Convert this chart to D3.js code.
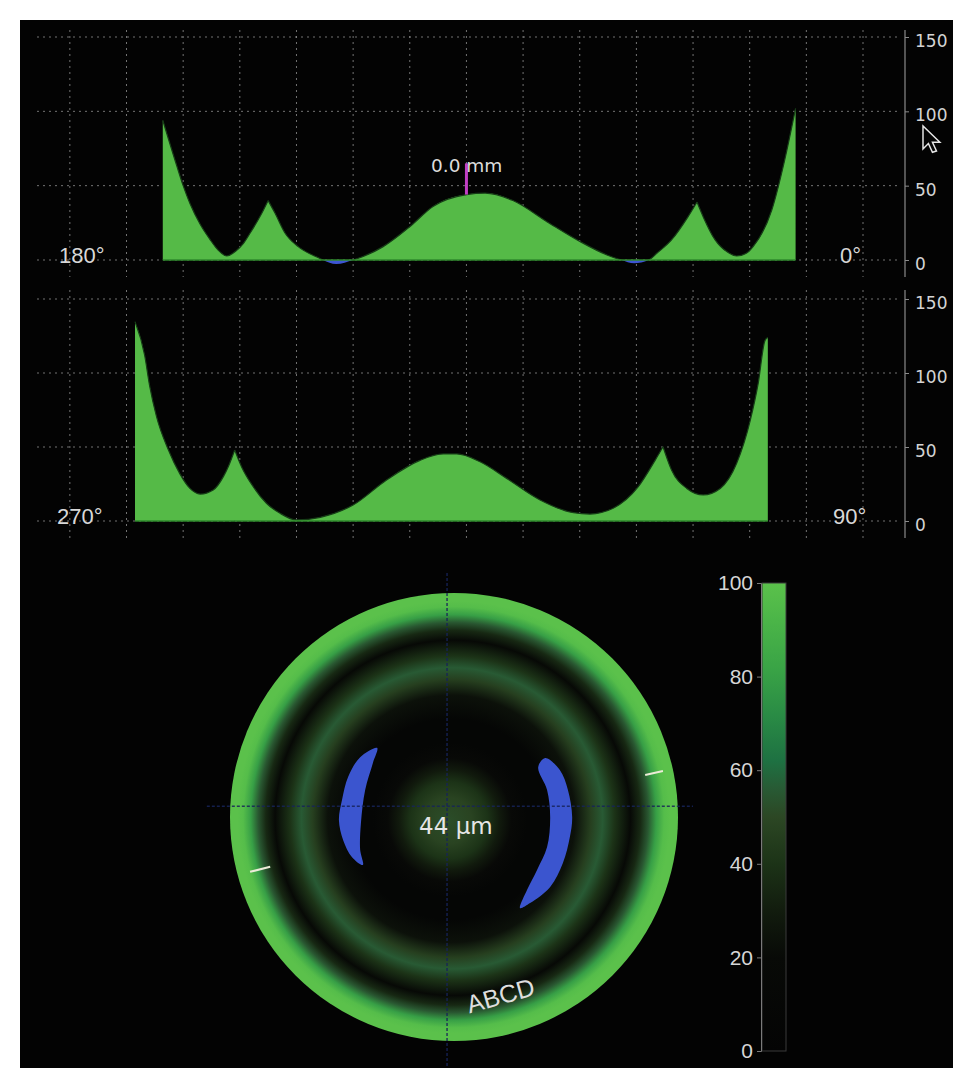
<!DOCTYPE html>
<html>
<head>
<meta charset="utf-8">
<script src="https://cdn.jsdelivr.net/npm/d3@7.9.0/dist/d3.min.js"></script>
<style>
  html, body { margin: 0; padding: 0; background: #fff; }
  svg { display: block; }
</style>
</head>
<body>
<svg id="chart" width="953" height="1068"></svg>
<script>
// ─── Data ────────────────────────────────────────────────────────────────────
// 180° → 0° meridian: position (mm from centre) and thickness
const merHmm  = [-5.36,-5.11,-5.00,-4.88,-4.70,-4.53,-4.39,-4.23,-4.07,-3.94,-3.82,-3.61,-3.50,-3.38,-3.20,-2.97,-2.64,-2.30,-2.00,-1.47,-1.00,-0.59,0.00,0.33,0.82,1.42,2.01,2.48,2.71,2.96,3.24,3.36,3.62,3.91,4.07,4.18,4.39,4.62,4.77,4.94,5.06,5.39,5.61,5.81];
const merHval = [94,63,50,38,24,14,7,2.7,6,11,18,31.6,40,31.6,18,9,2,-2.7,0,9,22.4,36,44,45,40,25.8,12.3,3.4,0.3,-2.2,0.5,4.5,13.5,29,39,29,13.5,5,2.7,4.5,9,33.6,66,102];
const merHcusps = [12, 34];   // sharp peaks

// 270° → 90° meridian
const merVmm  = [-5.85,-5.68,-5.59,-5.47,-5.26,-5.06,-4.88,-4.70,-4.47,-4.29,-4.20,-4.09,-3.97,-3.76,-3.53,-3.29,-3.00,-2.58,-2.00,-1.41,-0.82,-0.41,-0.17,0.24,0.71,1.30,1.89,2.18,2.59,3.03,3.33,3.47,3.62,3.89,4.18,4.48,4.77,5.01,5.15,5.27,5.32];
const merVval = [134.7,112,91,70.5,48,32,22,18.2,21,30,37,48,36.7,23,12,5.2,0.7,2.5,10.8,27.7,41,45.3,45.3,40,28.8,14.2,5.6,4.7,8.6,23,41,50.2,34.5,22,17.6,22,39,68,93,122,124];
const merVcusps = [11, 31];

const profileTicks = [0, 50, 100, 150];
const gridMm = [-7,-6,-5,-4,-3,-2,-1,0,1,2,3,4,5,6,7];

// thickness map: radial profile (mm from centre → value)
const mapRadiusMm = [0,0.6,1.0,1.3,1.6,2.0,2.6,3.2,3.6,3.9,4.2,4.6,4.85,5.05,5.25,5.45,5.6,5.8];
const mapValue    = [52,48,40,29,18,6,6,24,46,56,40,16,35,55,80,97,100,100];

// negative (blue) zones on the map, outline points in mm
const crescentLeft  = [[-1.99,1.79],[-2.43,1.55],[-2.74,1.04],[-2.90,0.44],[-2.98,-0.08],[-2.87,-0.60],[-2.64,-1.04],[-2.36,-1.24],[-2.43,-0.85],[-2.41,-0.16],[-2.30,0.70],[-2.10,1.40]];
const crescentRight = [[2.36,1.53],[2.74,1.22],[2.95,0.70],[3.06,0],[3.00,-0.52],[2.82,-1.19],[2.49,-1.81],[1.97,-2.23],[1.71,-2.36],[1.89,-1.89],[2.15,-1.37],[2.41,-0.78],[2.49,0],[2.41,0.70],[2.18,1.29]];
const edgeMarks = [[[4.95,1.09],[5.41,1.19]], [[-5.28,-1.42],[-4.76,-1.29]]];

// colour scale (colour bar)
const scaleStops  = [0, 20, 30, 40, 50, 56, 62, 72, 82, 92, 100];
const scaleColors = ['#040404','#080a07','#121c0e','#1c3317','#2c4724','#285a34','#1e7142','#2a8c45','#3aa446','#4bb548','#5bc14b'];
const barTicks = [0, 20, 40, 60, 80, 100];

// ─── Setup ───────────────────────────────────────────────────────────────────
const svg = d3.select('#chart');
svg.append('rect').attr('x', 20).attr('y', 20).attr('width', 933).attr('height', 1048).attr('fill', '#030303');
const defs = svg.append('defs');

const x = d3.scaleLinear().domain([-7.58, 7.6]).range([37, 897]);
const color = d3.scaleLinear().domain(scaleStops).range(scaleColors).clamp(true);

const GREEN = '#55ba47';
const BLUE = '#3d55d2';

// split a series at its cusp points so each piece gets its own smooth curve
function splitAtCusps(points, cusps) {
    const segs = [];
    let start = 0;
    cusps.forEach(c => { segs.push(points.slice(start, c + 1)); start = c; });
    segs.push(points.slice(start));
    return segs;
}

// ─── Meridian profile charts ─────────────────────────────────────────────────
function drawProfile(cfg) {
    const y = d3.scaleLinear().domain([0, 150]).range([cfg.base, cfg.top]);
    const g = svg.append('g');

    // dotted grid
    const grid = g.append('g').attr('stroke', '#9a9a9a').attr('stroke-opacity', 0.75)
        .attr('stroke-dasharray', '2,4').attr('stroke-width', 1);
    profileTicks.forEach(t => grid.append('line')
        .attr('x1', 37).attr('x2', 897).attr('y1', y(t)).attr('y2', y(t)));
    gridMm.forEach(m => grid.append('line')
        .attr('x1', x(m)).attr('x2', x(m)).attr('y1', cfg.gridTop).attr('y2', cfg.gridBottom));

    // clip above / below zero
    defs.append('clipPath').attr('id', cfg.id + '-pos').append('rect')
        .attr('x', 0).attr('y', 0).attr('width', 953).attr('height', y(0));
    defs.append('clipPath').attr('id', cfg.id + '-neg').append('rect')
        .attr('x', 0).attr('y', y(0)).attr('width', 953).attr('height', 40);

    const points = cfg.mm.map((m, i) => ({ m, v: cfg.val[i] }));
    const segs = splitAtCusps(points, cfg.cusps);

    const area = d3.area().x(d => x(d.m)).y0(y(0)).y1(d => y(d.v)).curve(d3.curveMonotoneX);
    const line = d3.line().x(d => x(d.m)).y(d => y(d.v)).curve(d3.curveMonotoneX);
    const areaD = segs.map(s => area(s)).join('');
    const lineD = segs.map(s => line(s)).join('');

    g.append('path').attr('d', areaD).attr('fill', GREEN)
        .attr('clip-path', `url(#${cfg.id}-pos)`);
    g.append('path').attr('d', areaD).attr('fill', BLUE)
        .attr('clip-path', `url(#${cfg.id}-neg)`);
    g.append('path').attr('d', lineD).attr('fill', 'none')
        .attr('stroke', '#173d17').attr('stroke-width', 1.2)
        .attr('clip-path', `url(#${cfg.id}-pos)`);

    // baseline under the fill
    g.append('line').attr('x1', x(cfg.mm[0])).attr('x2', x(cfg.mm[cfg.mm.length - 1]))
        .attr('y1', y(0)).attr('y2', y(0)).attr('stroke', '#2f8a2c').attr('stroke-width', 1.5);

    // right axis
    const ax = g.append('g').attr('transform', 'translate(905,0)')
        .call(d3.axisRight(y).tickValues(profileTicks).tickSize(4).tickPadding(6));
    ax.select('.domain').remove();
    ax.selectAll('.tick line').attr('stroke', '#8a8a8a');
    ax.selectAll('.tick text').attr('fill', '#d4d4d4').attr('dy', '0.55em')
        .style('font-family', '"DejaVu Sans", Verdana, sans-serif').style('font-size', '17px');
    ax.append('line').attr('x1', 0).attr('x2', 0).attr('y1', cfg.gridTop).attr('y2', cfg.gridBottom)
        .attr('stroke', '#8a8a8a').attr('stroke-width', 1.2);

    // direction labels
    cfg.labels.forEach(l => g.append('text').attr('x', l.x).attr('y', y(0) + 3)
        .attr('fill', '#d8d8d8').style('font-family', '"Liberation Sans", Arial, sans-serif')
        .style('font-size', '22px').text(l.text));
    return { g, y };
}

const topChart = drawProfile({ id: 'h', mm: merHmm, val: merHval, cusps: merHcusps,
    base: 260, top: 37, gridTop: 30, gridBottom: 277,
    labels: [{ x: 59, text: '180°' }, { x: 840, text: '0°' }] });

drawProfile({ id: 'v', mm: merVmm, val: merVval, cusps: merVcusps,
    base: 521, top: 299, gridTop: 290, gridBottom: 538,
    labels: [{ x: 57, text: '270°' }, { x: 833, text: '90°' }] });

// position marker on the top chart
const markIdx = merHmm.indexOf(0);
topChart.g.append('line').attr('x1', x(0)).attr('x2', x(0))
    .attr('y1', topChart.y(65)).attr('y2', topChart.y(merHval[markIdx]))
    .attr('stroke', '#c13fc4').attr('stroke-width', 3);
topChart.g.append('text').attr('x', 431).attr('y', 172).attr('fill', '#dcdcdc')
    .style('font-family', '"DejaVu Sans", Verdana, sans-serif').style('font-size', '18.5px')
    .text('0.0 mm');

// mouse pointer
svg.append('path').attr('transform', 'translate(923,126) scale(1.35)')
    .attr('d', 'M0,0 L0,17 L4,13 L7,19.5 L10,18.5 L7,12 L12.5,12 Z')
    .attr('fill', '#050505').attr('stroke', '#e6e6e6').attr('stroke-width', 1.1);

// ─── Thickness map ───────────────────────────────────────────────────────────
const cx = 454, cy = 817, pxPerMm = 224 / 5.8;
const mapX = d3.scaleLinear().domain([0, 1]).range([cx, cx + pxPerMm]);
const mapY = d3.scaleLinear().domain([0, 1]).range([cy, cy - pxPerMm]);
const mapR = d3.scaleLinear().domain([0, 5.8]).range([0, 224]);

const rg = defs.append('radialGradient').attr('id', 'mapGrad')
    .attr('gradientUnits', 'userSpaceOnUse')
    .attr('cx', cx).attr('cy', cy).attr('r', mapR(5.8))
    .attr('fx', cx - 6).attr('fy', cy + 4);
mapRadiusMm.forEach((r, i) => rg.append('stop')
    .attr('offset', r / 5.8).attr('stop-color', color(mapValue[i])));

svg.append('circle').attr('cx', cx).attr('cy', cy).attr('r', mapR(5.8)).attr('fill', 'url(#mapGrad)');

const crescent = d3.line().x(d => mapX(d[0])).y(d => mapY(d[1])).curve(d3.curveCatmullRomClosed.alpha(0.5));
[crescentLeft, crescentRight].forEach(c => svg.append('path').attr('d', crescent(c)).attr('fill', '#3b55cf'));

// cross hair
const cross = svg.append('g').attr('stroke', '#17245a').attr('stroke-width', 1.5)
    .attr('stroke-dasharray', '3,2').attr('opacity', 0.85);
cross.append('line').attr('x1', mapX(-6.4)).attr('x2', mapX(6.19)).attr('y1', mapY(0.28)).attr('y2', mapY(0.28));
cross.append('line').attr('x1', mapX(-0.18)).attr('x2', mapX(-0.18)).attr('y1', mapY(6.32)).attr('y2', 1068);

edgeMarks.forEach(m => svg.append('line')
    .attr('x1', mapX(m[0][0])).attr('y1', mapY(m[0][1]))
    .attr('x2', mapX(m[1][0])).attr('y2', mapY(m[1][1]))
    .attr('stroke', '#ecebd8').attr('stroke-width', 2));

svg.append('text').attr('x', mapX(0.05)).attr('y', mapY(-0.44)).attr('text-anchor', 'middle')
    .attr('fill', '#e6e6e6').style('font-family', '"DejaVu Sans", Verdana, sans-serif')
    .style('font-size', '23px').text('44 µm');

svg.append('text').attr('transform', 'translate(503,1004) rotate(-16)').attr('text-anchor', 'middle')
    .attr('fill', '#dedede').style('font-family', '"Liberation Sans", Arial, sans-serif')
    .style('font-size', '25px').text('ABCD');

// ─── Colour bar ──────────────────────────────────────────────────────────────
const yBar = d3.scaleLinear().domain([0, 100]).range([1051, 583]);
const lg = defs.append('linearGradient').attr('id', 'barGrad')
    .attr('x1', 0).attr('y1', 1).attr('x2', 0).attr('y2', 0);
scaleStops.forEach((s, i) => lg.append('stop').attr('offset', s / 100).attr('stop-color', scaleColors[i]));

svg.append('rect').attr('x', 762).attr('y', yBar(100)).attr('width', 24).attr('height', yBar(0) - yBar(100))
    .attr('fill', 'url(#barGrad)').attr('stroke', '#3a3a3a').attr('stroke-width', 1);

const barAxis = svg.append('g').attr('transform', 'translate(761,0)')
    .call(d3.axisLeft(yBar).tickValues(barTicks).tickSize(4).tickPadding(4));
barAxis.select('.domain').attr('stroke', '#7a7a7a');
barAxis.selectAll('.tick line').attr('stroke', '#7a7a7a');
barAxis.selectAll('.tick text').attr('fill', '#d6d6d6')
    .style('font-family', '"Liberation Sans", Arial, sans-serif').style('font-size', '21px');
</script>
</body>
</html>
